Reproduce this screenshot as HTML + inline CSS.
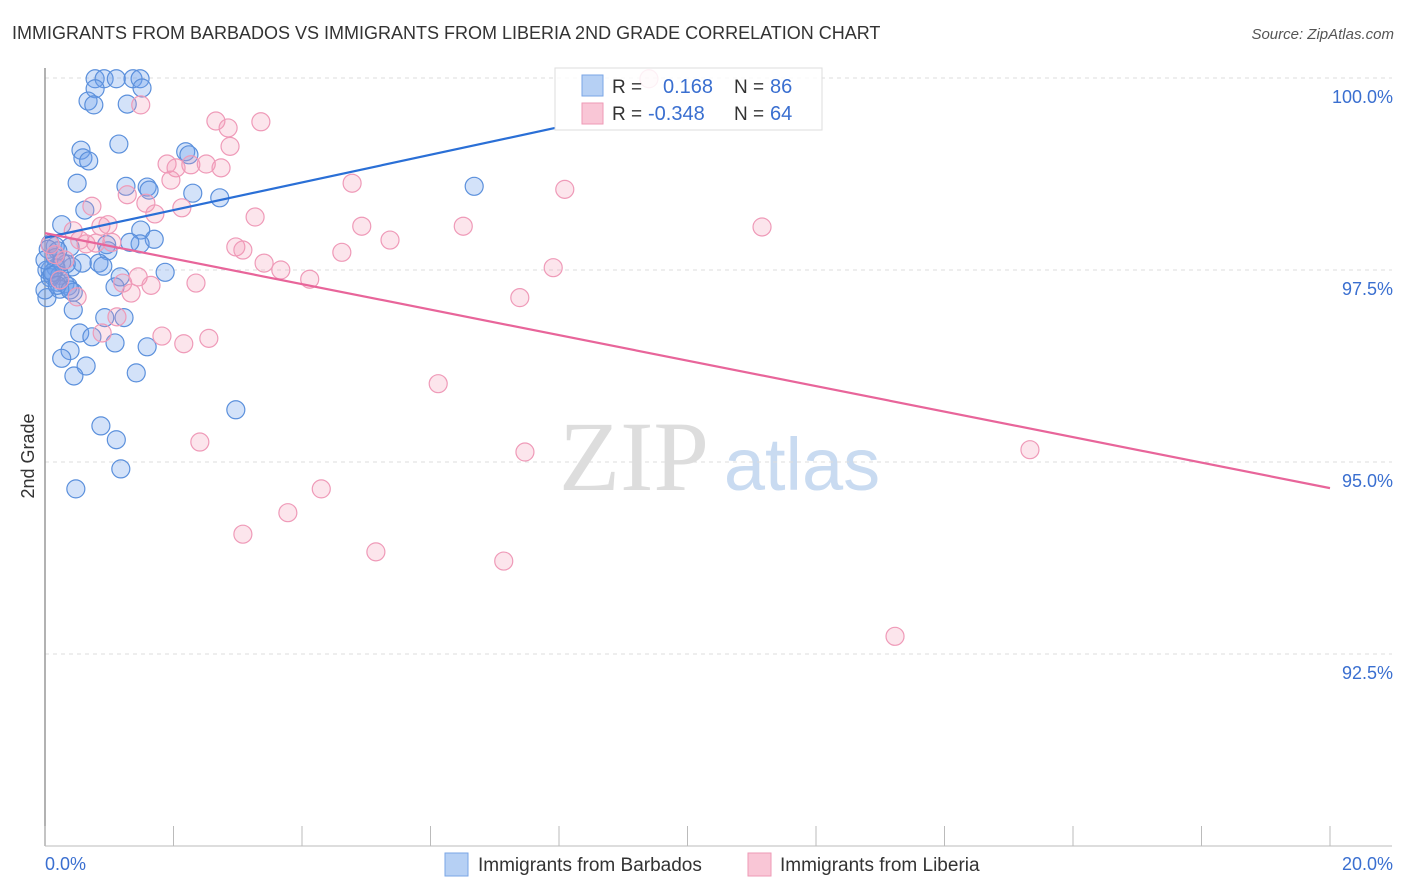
<!DOCTYPE html>
<html><head><meta charset="utf-8">
<style>
body{margin:0;background:#fff;font-family:"Liberation Sans",sans-serif;}
svg{display:block}
</style></head>
<body>
<svg id="chart" width="1406" height="892" viewBox="0 0 1406 892">
<text x="12" y="39" font-size="18" fill="#333">IMMIGRANTS FROM BARBADOS VS IMMIGRANTS FROM LIBERIA 2ND GRADE CORRELATION CHART</text>
<text x="1394" y="39" font-size="15" fill="#555" font-style="italic" text-anchor="end">Source: ZipAtlas.com</text>
<text transform="translate(34,456) rotate(-90)" font-size="18" fill="#333" text-anchor="middle">2nd Grade</text>
<g>
<text x="634" y="490" font-size="100" font-family="Liberation Serif,serif" fill="#ddd" text-anchor="middle">ZIP</text>
<text x="802" y="490" font-size="74" fill="#c9dbf1" text-anchor="middle">atlas</text>
</g>
<g id="grid"></g>
<g id="axes"></g>
<g id="pts"></g>
<g id="trend"></g>
<g>
<rect x="555" y="68" width="267" height="62" fill="#fff" fill-opacity="0.85" stroke="#ddd"/>
<rect x="582" y="75" width="21" height="21" fill="#b6d0f4" stroke="#7aa6e6"/>
<text x="612" y="93" font-size="19" fill="#333">R =</text>
<text x="663" y="93" font-size="20" fill="#3a6fd0">0.168</text>
<text x="734" y="93" font-size="19" fill="#333">N =</text>
<text x="770" y="93" font-size="20" fill="#3a6fd0">86</text>
<rect x="582" y="103" width="21" height="21" fill="#f9c6d6" stroke="#ee9ab6"/>
<text x="612" y="120" font-size="19" fill="#333">R =</text>
<text x="648" y="120" font-size="20" fill="#3a6fd0">-0.348</text>
<text x="734" y="120" font-size="19" fill="#333">N =</text>
<text x="770" y="120" font-size="20" fill="#3a6fd0">64</text>
</g>
<g>
<rect x="445" y="853" width="23" height="23" fill="#b6d0f4" stroke="#7aa6e6"/>
<text x="478" y="871" font-size="19" fill="#333">Immigrants from Barbados</text>
<rect x="748" y="853" width="23" height="23" fill="#f9c6d6" stroke="#ee9ab6"/>
<text x="780" y="871" font-size="19" fill="#333">Immigrants from Liberia</text>
</g>
</svg>
<script>
const yTicks=[100,97.5,95,92.5];
const yTickLabels=["100.0%","97.5%","95.0%","92.5%"];
const xTicks=[0,2,4,6,8,10,12,14,16,18,20];
const xEndLabels=["0.0%","20.0%"];
const barbadosX=[0.78,0.92,1.11,1.37,1.48,0.78,1.51,0.67,0.76,1.28,1.15,0.56,0.59,0.68,2.19,2.24,0.50,1.26,1.59,1.62,2.30,2.72,6.68,0.62,0.26,1.49,1.70,1.48,1.32,0.96,0.39,0.16,0.08,0.05,0.20,0.98,0.84,0.90,0.58,0.42,0.33,0.17,0.08,0.03,0.23,0.08,0.20,0.31,0.36,0.44,0.23,1.17,1.87,1.09,0.03,0.44,0.54,0.93,1.23,0.73,1.09,1.59,0.39,0.26,0.64,1.42,0.45,2.97,0.87,1.11,1.18,0.48,0.0,0.11,0.16,0.26,0.12,0.19,0.0,0.39];
const barbadosY=[99.99,99.99,99.99,99.99,99.99,99.86,99.87,99.70,99.65,99.66,99.14,99.06,98.96,98.92,99.04,99.00,98.63,98.59,98.58,98.54,98.50,98.44,98.59,98.28,98.09,98.02,97.90,97.84,97.86,97.83,97.80,97.81,97.84,97.77,97.75,97.75,97.59,97.55,97.59,97.54,97.58,97.53,97.50,97.50,97.43,97.40,97.34,97.32,97.29,97.21,97.25,97.41,97.47,97.28,97.14,96.98,96.68,96.88,96.88,96.63,96.55,96.50,96.45,96.35,96.25,96.16,96.12,95.68,95.47,95.29,94.91,94.65,97.24,97.43,97.66,97.60,97.47,97.30,97.63,97.24];
const liberiaX=[9.40,1.49,2.66,3.36,2.85,2.88,1.90,2.27,2.51,2.74,2.04,1.96,4.78,8.09,1.28,1.57,0.73,2.13,1.71,3.27,0.87,0.98,4.93,6.51,11.16,0.44,5.37,1.04,0.64,0.79,2.97,3.08,4.62,3.41,3.67,7.91,4.12,1.45,1.65,2.35,1.21,0.50,1.34,7.39,1.12,0.89,1.82,2.55,2.16,6.12,2.41,15.33,7.47,4.30,3.78,3.08,5.15,7.14,13.23,0.08,0.16,0.31,0.54,0.23];
const liberiaY=[99.99,99.65,99.44,99.43,99.35,99.11,98.88,98.87,98.88,98.83,98.83,98.67,98.63,98.55,98.48,98.37,98.33,98.31,98.23,98.19,98.07,98.09,98.07,98.07,98.06,98.01,97.89,97.86,97.84,97.85,97.80,97.76,97.73,97.59,97.50,97.53,97.38,97.41,97.30,97.33,97.33,97.15,97.20,97.14,96.89,96.68,96.64,96.61,96.54,96.02,95.26,95.16,95.13,94.65,94.34,94.06,93.83,93.71,92.73,97.83,97.70,97.63,97.89,97.37];
const barbadosTrend=[[0,97.92],[7.94,99.35]];
const liberiaTrend=[[0,97.98],[20,94.66]];

const NS="http://www.w3.org/2000/svg";
const X0=45,X1=1330,Y100=78,PX_PER_PCT=192/2.5;
function sx(v){return X0+(v/20)*(X1-X0);}
function sy(v){return Y100+(100-v)*PX_PER_PCT;}
function mk(tag,attrs,parent){const e=document.createElementNS(NS,tag);for(const k in attrs)e.setAttribute(k,attrs[k]);parent.appendChild(e);return e;}
const grid=document.getElementById('grid'),axes=document.getElementById('axes'),pts=document.getElementById('pts'),trend=document.getElementById('trend');
yTicks.forEach((t,i)=>{
  const l=mk('line',{x1:X0,x2:1392,y1:sy(t),y2:sy(t),stroke:'#ddd','stroke-dasharray':'4,4'},grid);
  
  
  const tx=mk('text',{x:1393,y:sy(t)+25,'font-size':18,fill:'#3a6fd0','text-anchor':'end'},axes);
  tx.textContent=yTickLabels[i];
  
  
});
const ax=mk('line',{x1:X0,x2:X0,y1:68,y2:846,stroke:'#999','stroke-width':1.5},axes);


const bx=mk('line',{x1:X0,x2:1392,y1:846,y2:846,stroke:'#bbb'},axes);


xTicks.forEach(t=>{
  const l=mk('line',{x1:sx(t),x2:sx(t),y1:826,y2:846,stroke:'#bbb'},axes);
  
  
});
const xl0=mk('text',{x:45,y:870,'font-size':18,fill:'#3a6fd0'},axes);
xl0.textContent=xEndLabels[0];


const xl1=mk('text',{x:1393,y:870,'font-size':18,fill:'#3a6fd0','text-anchor':'end'},axes);
xl1.textContent=xEndLabels[1];


barbadosX.forEach((x,i)=>{
  const c=mk('circle',{cx:sx(x),cy:sy(barbadosY[i]),r:9,fill:'rgba(110,160,235,0.3)',stroke:'#5b90dc','stroke-width':1.2},pts);
  
  
});
liberiaX.forEach((x,i)=>{
  const c=mk('circle',{cx:sx(x),cy:sy(liberiaY[i]),r:9,fill:'rgba(245,150,180,0.25)',stroke:'#ef9ab8','stroke-width':1.2},pts);
  
  
});
const t1=mk('line',{x1:sx(barbadosTrend[0][0]),y1:sy(barbadosTrend[0][1]),x2:sx(barbadosTrend[1][0]),y2:sy(barbadosTrend[1][1]),stroke:'#2a6fd6','stroke-width':2.2},trend);


const t2=mk('line',{x1:sx(liberiaTrend[0][0]),y1:sy(liberiaTrend[0][1]),x2:sx(liberiaTrend[1][0]),y2:sy(liberiaTrend[1][1]),stroke:'#e8659a','stroke-width':2.2},trend);


</script>
</body></html>
